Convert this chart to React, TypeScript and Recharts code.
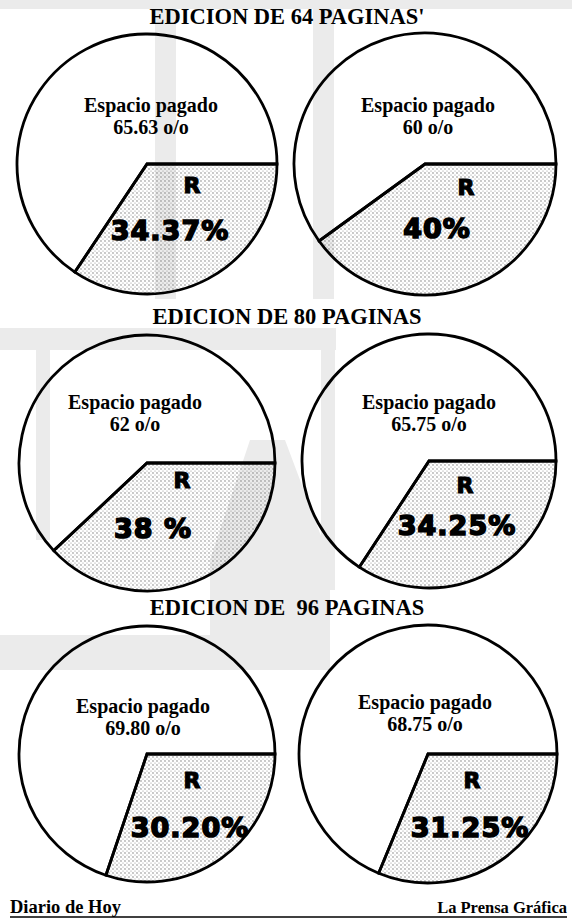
import React from 'react';
import { PieChart, Pie, Cell } from 'recharts';

// Reparto del espacio por edición: Espacio pagado vs R
const editionTitles = ["EDICION DE 64 PAGINAS'", 'EDICION DE 80 PAGINAS', 'EDICION DE  96 PAGINAS'];
const newspapers = ['Diario de Hoy', 'La Prensa Gráfica'];
const sliceNames = ['R', 'Espacio pagado'];
const paidShare = [65.63, 60, 62, 65.75, 69.8, 68.75];
const rShare = [34.37, 40, 38, 34.25, 30.2, 31.25];
const paidLabels = ['65.63 o/o', '60 o/o', '62 o/o', '65.75 o/o', '69.80 o/o', '68.75 o/o'];
const rLabels = ['34.37%', '40%', '38 %', '34.25%', '30.20%', '31.25%'];

// where each pie sits, and label offsets from its centre
const pieLayout = [
  { cx: 147, cy: 164, r: 130, esp: [4, -48], rl: [45, 21], pct: [23, 66] },
  { cx: 425, cy: 164, r: 131, esp: [3, -48], rl: [41, 23], pct: [12, 64] },
  { cx: 147, cy: 463, r: 128, esp: [-12, -50], rl: [35, 17], pct: [6, 65] },
  { cx: 429, cy: 461, r: 127, esp: [0, -48], rl: [36, 24], pct: [28, 64] },
  { cx: 147, cy: 754, r: 128, esp: [-4, -37], rl: [45, 26], pct: [43, 73] },
  { cx: 428, cy: 754, r: 129, esp: [-3, -41], rl: [44, 26], pct: [42, 73] },
];

const titleY = [24, 324, 615];

const serif = '"Liberation Serif", "Times New Roman", serif';
const heavy = '"DejaVu Sans", sans-serif';

const makeLabel = (i: number) => (props: any) => {
  const { index } = props;
  const lay = pieLayout[i];
  const cx = lay.cx;
  const cy = lay.cy;
  if (index === 1) {
    return (
      <g>
        <text x={cx + lay.esp[0]} y={cy + lay.esp[1] - 4} textAnchor="middle" fontFamily={serif} fontWeight="bold" fontSize={20} fill="#000">
          {sliceNames[1]}
        </text>
        <text x={cx + lay.esp[0]} y={cy + lay.esp[1] + 18} textAnchor="middle" fontFamily={serif} fontWeight="bold" fontSize={20} fill="#000">
          {paidLabels[i]}
        </text>
      </g>
    );
  }
  return (
    <g>
      <text x={cx + lay.rl[0]} y={cy + lay.rl[1] + 8} textAnchor="middle" fontFamily={heavy} fontWeight="900" fontSize={22} stroke="#000" strokeWidth={1.2} fill="#000">
        {sliceNames[0]}
      </text>
      <text x={cx + lay.pct[0]} y={cy + lay.pct[1] + 10} textAnchor="middle" fontFamily={heavy} fontWeight="900" fontSize={27} letterSpacing={1} stroke="#000" strokeWidth={1.6} fill="#000">
        {rLabels[i]}
      </text>
    </g>
  );
};

const App = () => {
  return (
    <div style={{ position: 'absolute', left: 0, top: 0, width: 572, height: 920, background: '#fff' }}>
      <svg width={572} height={920} style={{ position: 'absolute', left: 0, top: 0 }}>
        <defs>
          <pattern id="stipple" width="4" height="4" patternUnits="userSpaceOnUse">
            <circle cx="1" cy="1" r="0.65" fill="#666" />
            <circle cx="3" cy="3" r="0.55" fill="#888" />
          </pattern>
        </defs>
        {/* faint watermark from the scan */}
        <g fill="#ebebeb">
          <rect x={0} y={0} width={572} height={9} />
          <rect x={155} y={9} width={21} height={290} />
          <rect x={313} y={9} width={21} height={290} />
          <rect x={0} y={328} width={336} height={22} />
          <rect x={36} y={350} width={14} height={190} />
          <rect x={321} y={350} width={14} height={240} />
          <polygon points="210,560 250,440 285,440 330,560 330,670 0,670 0,635 210,635" />
        </g>
        {editionTitles.map((t, k) => (
          <text key={t} x={287} y={titleY[k]} textAnchor="middle" fontFamily={serif} fontWeight="bold" fontSize={22.5} fill="#000" style={{ whiteSpace: 'pre' }}>
            {t}
          </text>
        ))}
        <text x={10} y={913} fontFamily={serif} fontWeight="bold" fontSize={18.5} fill="#000">
          {newspapers[0]}
        </text>
        <text x={567} y={913} textAnchor="end" fontFamily={serif} fontWeight="bold" fontSize={16.5} fill="#000">
          {newspapers[1]}
        </text>
        <line x1={10} y1={917} x2={567} y2={917} stroke="#000" strokeWidth={1.5} />
      </svg>
      <div style={{ position: 'absolute', left: 0, top: 0 }}>
        <PieChart width={572} height={920} margin={{ top: 0, right: 0, bottom: 0, left: 0 }}>
          {pieLayout.map((lay, i) => (
            <Pie
              key={i}
              data={[
                { name: sliceNames[0], value: rShare[i] },
                { name: sliceNames[1], value: paidShare[i] },
              ]}
              dataKey="value"
              cx={lay.cx}
              cy={lay.cy}
              outerRadius={lay.r}
              startAngle={0}
              endAngle={-360}
              stroke="#000"
              strokeWidth={2.8}
              labelLine={false}
              label={makeLabel(i)}
              isAnimationActive={false}
            >
              <Cell fill="url(#stipple)" />
              <Cell fill="transparent" />
            </Pie>
          ))}
        </PieChart>
      </div>
    </div>
  );
};

export default App;
